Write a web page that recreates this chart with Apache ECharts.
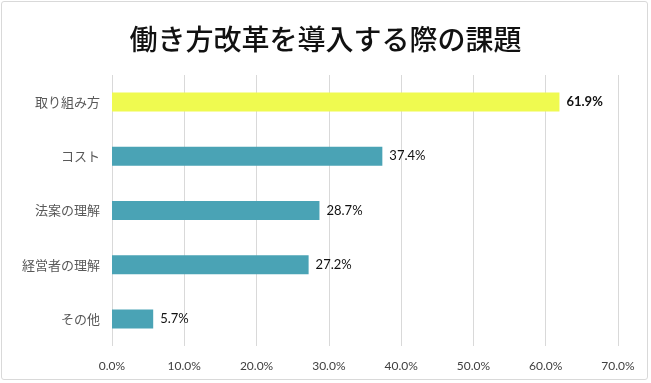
<!DOCTYPE html>
<html><head><meta charset="utf-8">
<script src="https://cdn.jsdelivr.net/npm/echarts@6/dist/echarts.min.js"></script>
<style>html,body{margin:0;padding:0;background:#fff}
#c{width:651px;height:383px}
#frame{position:absolute;left:1px;top:1px;width:647px;height:379px;border:1px solid #d9d9d9;border-radius:3px;box-sizing:border-box;pointer-events:none}
</style></head>
<body><div id="c"></div><div id="frame"></div>
<script>
const categories = ['取り組み方','コスト','法案の理解','経営者の理解','その他'];
const values = [61.9, 37.4, 28.7, 27.2, 5.7];
const highlight = [true, false, false, false, false];
const xTicks = [0,10,20,30,40,50,60,70];

const chart = echarts.init(document.getElementById('c'), null, {renderer:'canvas'});
chart.setOption({
  animation:false,
  title:{text:'働き方改革を導入する際の課題',left:'center',top:20,
    textStyle:{fontFamily:'Noto Sans CJK JP',fontSize:28,fontWeight:500,color:'#111'}},
  grid:{left:112,right:33,top:75,bottom:37},
  xAxis:{type:'value',min:xTicks[0],max:xTicks[xTicks.length-1],interval:10,
    axisLine:{show:false},axisTick:{show:false},
    splitLine:{lineStyle:{color:'#d9d9d9',width:1}},
    axisLabel:{formatter:v=>v.toFixed(1)+'%',color:'#404040',fontSize:12,fontFamily:'Lato',margin:14}},
  yAxis:{type:'category',inverse:true,data:categories,
    axisLine:{show:false},axisTick:{show:false},
    axisLabel:{color:'#595959',fontSize:13,fontFamily:'Noto Sans CJK JP',margin:12}},
  series:[{type:'bar',barWidth:19,
    data:values.map((v,i)=>({value:v,itemStyle:{color:highlight[i]?'#EFFA50':'#4AA3B5'},
      label:{fontWeight:highlight[i]?'bold':'normal'}})),
    label:{show:true,position:'right',distance:7,formatter:p=>p.value.toFixed(1)+'%',
      color:'#111',fontSize:13,fontFamily:'Lato'}}]
});
</script></body></html>
